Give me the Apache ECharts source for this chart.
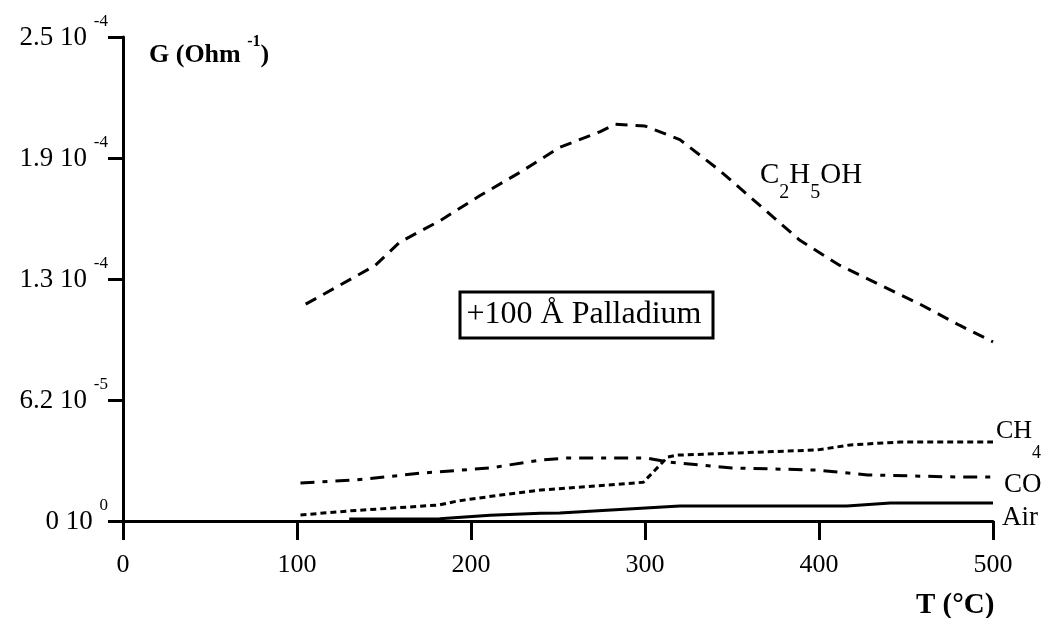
<!DOCTYPE html>
<html>
<head>
<meta charset="utf-8">
<script src="https://cdn.jsdelivr.net/npm/echarts@6/dist/echarts.min.js"></script>
<style>html,body{margin:0;padding:0;background:#fff}#c{width:1054px;height:618px}</style>
</head>
<body>
<div id="c"></div>
<script>
// Temperature (°C) and conductance G (Ohm^-1)
const ethanolT = [105,125,145,159,182,205,228,251,274,283,300,320,343,366,389,412,435,458,481,500];
const ethanolG = [1.12e-4,1.22e-4,1.32e-4,1.44e-4,1.55e-4,1.68e-4,1.80e-4,1.93e-4,2.01e-4,2.05e-4,2.04e-4,1.97e-4,1.81e-4,1.63e-4,1.45e-4,1.32e-4,1.22e-4,1.12e-4,1.01e-4,0.925e-4];
const coT = [102,134,172,211,240,255,301,313,350,399,428,481,500];
const coG = [0.196e-4,0.212e-4,0.248e-4,0.274e-4,0.315e-4,0.325e-4,0.325e-4,0.305e-4,0.274e-4,0.263e-4,0.238e-4,0.227e-4,0.227e-4];
const ch4T = [102,130,182,192,217,240,255,299,313,318,399,418,447,500];
const ch4G = [0.031e-4,0.052e-4,0.083e-4,0.103e-4,0.134e-4,0.16e-4,0.17e-4,0.20e-4,0.33e-4,0.34e-4,0.367e-4,0.393e-4,0.408e-4,0.408e-4];
const airT = [130,182,211,240,251,320,416,441,500];
const airG = [0.01e-4,0.012e-4,0.03e-4,0.04e-4,0.041e-4,0.077e-4,0.077e-4,0.093e-4,0.093e-4];
const yTickMantissa = ['0 10','6.2 10','1.3 10','1.9 10','2.5 10'];
const yTickExponent = ['0','-5','-4','-4','-4'];
const xTicks = [0,100,200,300,400,500];

const pair = (xs, ys) => xs.map((x, i) => [x, ys[i]]);
const FONT = 'Liberation Serif';
const chart = echarts.init(document.getElementById('c'));
const yStep = 6.25e-5;

chart.setOption({
  animation: false,
  backgroundColor: '#fff',
  grid: {left: 123, right: 61, top: 37, bottom: 97},
  xAxis: {
    type: 'value', min: 0, max: 500, interval: 100,
    axisLine: {lineStyle: {color: '#000', width: 3}},
    axisTick: {inside: false, length: 19, lineStyle: {color: '#000', width: 3}},
    axisLabel: {color: '#000', fontFamily: FONT, fontSize: 26, margin: 31,
      formatter: v => xTicks.includes(v) ? String(v) : ''},
    splitLine: {show: false}
  },
  yAxis: {
    type: 'value', min: 0, max: 2.5e-4, interval: yStep,
    axisLine: {show: true, lineStyle: {color: '#000', width: 3}},
    axisTick: {show: true, length: 15, lineStyle: {color: '#000', width: 3}},
    axisLabel: {
      color: '#000', fontFamily: FONT, margin: 15, padding: [0, 0, 10, 0],
      formatter: v => {
        const i = Math.round(v / yStep);
        return '{a|' + yTickMantissa[i] + ' }{s|' + yTickExponent[i] + '}';
      },
      rich: {
        a: {fontFamily: FONT, fontSize: 27, color: '#000', lineHeight: 38, verticalAlign: 'bottom'},
        s: {fontFamily: FONT, fontSize: 17, color: '#000', verticalAlign: 'top', lineHeight: 38}
      }
    },
    splitLine: {show: false}
  },
  series: [
    {name: 'C2H5OH', type: 'line', data: pair(ethanolT, ethanolG), symbol: 'none',
      lineStyle: {color: '#000', width: 3, type: [12, 8]}},
    {name: 'CO', type: 'line', data: pair(coT, coG), symbol: 'none',
      lineStyle: {color: '#000', width: 3, type: [14, 8, 5, 8]}},
    {name: 'CH4', type: 'line', data: pair(ch4T, ch4G), symbol: 'none',
      lineStyle: {color: '#000', width: 3, type: [6, 4]}},
    {name: 'Air', type: 'line', data: pair(airT, airG), symbol: 'none',
      lineStyle: {color: '#000', width: 3}}
  ],
  graphic: [
    {type: 'text', left: 149, top: 34, style: {
      text: '{b|G (Ohm }{s|-1}{b|)}', rich: {
        b: {fontFamily: FONT, fontWeight: 'bold', fontSize: 26, fill: '#000', lineHeight: 34, verticalAlign: 'bottom'},
        s: {fontFamily: FONT, fontWeight: 'bold', fontSize: 16, fill: '#000', lineHeight: 34, verticalAlign: 'top'}
      }}},
    {type: 'text', left: 916, top: 591, style: {
      text: 'T (°C)', fontFamily: FONT, fontWeight: 'bold', fontSize: 29, fill: '#000'}},
    {type: 'rect', shape: {x: 460, y: 292, width: 253, height: 46},
      style: {fill: '#fff', stroke: '#000', lineWidth: 3}},
    {type: 'text', x: 584, y: 315, style: {
      text: '+100 Å Palladium', fontFamily: FONT, fontSize: 32, fill: '#000', align: 'center', verticalAlign: 'middle'}},
    {type: 'text', left: 760, top: 161, style: {
      text: '{m|C}{d|2}{m|H}{d|5}{m|OH}', rich: {
        m: {fontFamily: FONT, fontSize: 29, fill: '#000', lineHeight: 42, verticalAlign: 'top'},
        d: {fontFamily: FONT, fontSize: 20, fill: '#000', lineHeight: 42, verticalAlign: 'bottom'}
      }}},
    {type: 'text', left: 996, top: 418, style: {
      text: '{m|CH}{d|4}', rich: {
        m: {fontFamily: FONT, fontSize: 26, fill: '#000', lineHeight: 44, verticalAlign: 'top'},
        d: {fontFamily: FONT, fontSize: 18, fill: '#000', lineHeight: 44, verticalAlign: 'bottom'}
      }}},
    {type: 'text', left: 1004, top: 471, style: {
      text: 'CO', fontFamily: FONT, fontSize: 27, fill: '#000'}},
    {type: 'text', left: 1002, top: 504, style: {
      text: 'Air', fontFamily: FONT, fontSize: 27, fill: '#000'}}
  ]
});
</script>
</body>
</html>
